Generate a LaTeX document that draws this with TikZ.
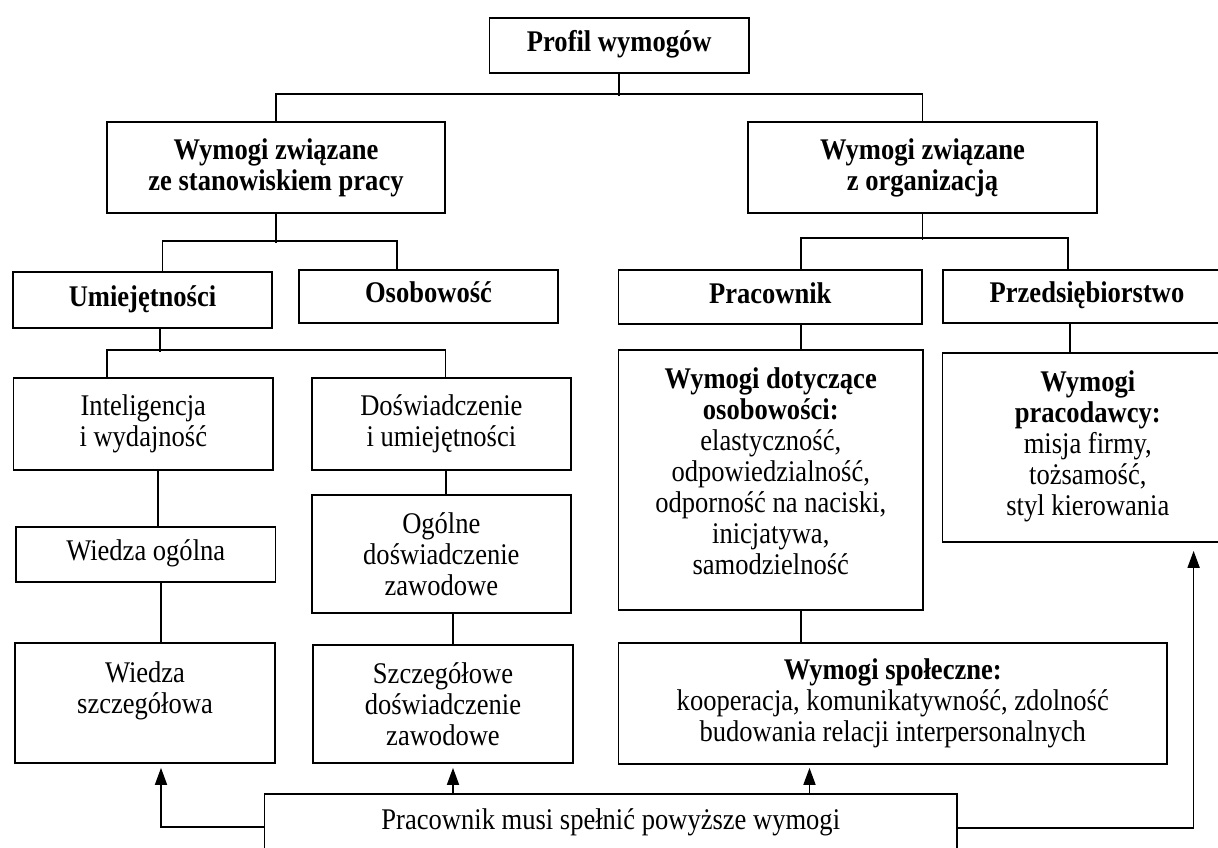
\documentclass[tikz,border=0pt]{standalone}
\usepackage{fontspec}
\setmainfont{Liberation Serif}[FakeStretch=0.885]
\usetikzlibrary{arrows.meta}
\begin{document}
\begin{tikzpicture}[x=1pt,y=-1pt,
  box/.style={draw, line width=1.7pt, inner sep=0pt, align=center, font=\fontsize{30}{31}\selectfont},
  conn/.style={line width=1.7pt},
  arr/.style={line width=1.7pt, -{Triangle[length=17pt,width=12pt]}}]
\useasboundingbox (0,0) rectangle (1218,848);
\clip (0,0) rectangle (1218,848);
% boxes
\node[box, minimum width=259.5pt, minimum height=55.6pt] (profil) at (619.25,45.5) {\strut\textbf{Profil wymogów}};
\node[box, minimum width=338pt, minimum height=91pt] (l1a) at (276,167.5) {\textbf{Wymogi związane}\\\textbf{ze stanowiskiem pracy}};
\node[box, minimum width=349pt, minimum height=91pt] (l1b) at (922.5,167.5) {\textbf{Wymogi związane}\\\textbf{z organizacją}};
\node[box, minimum width=259pt, minimum height=56pt] (umiej) at (142.5,300) {\strut\textbf{Umiejętności}};
\node[box, minimum width=259pt, minimum height=53pt] (osob) at (428.5,296.5) {\strut\textbf{Osobowość}};
\node[box, minimum width=303.5pt, minimum height=54pt] (prac) at (770.25,297) {\strut\textbf{Pracownik}};
\node[box, minimum width=288pt, minimum height=53pt] (przed) at (1087,296.5) {\strut\textbf{Przedsiębiorstwo}};
\node[box, minimum width=259.4pt, minimum height=92pt] (intel) at (143.3,424) {Inteligencja\\i wydajność};
\node[box, minimum width=259.3pt, minimum height=92pt] (dosw) at (441.35,424) {Doświadczenie\\i umiejętności};
\node[box, minimum width=259.5pt, minimum height=55pt] (wog) at (145.75,554.5) {\strut Wiedza ogólna};
\node[box, minimum width=259.3pt, minimum height=118pt] (ogol) at (441.35,554) {Ogólne\\doświadczenie\\zawodowe};
\node[box, minimum width=260pt, minimum height=120pt] (wsz) at (145,703) {Wiedza\\szczegółowa\\\mbox{}};
\node[box, minimum width=260pt, minimum height=118pt] (szcz) at (443,704) {Szczegółowe\\doświadczenie\\zawodowe};
\node[box, minimum width=304.5pt, minimum height=260pt] (wdot) at (770.75,480) {\textbf{Wymogi dotyczące}\\\textbf{osobowości:}\\elastyczność,\\odpowiedzialność,\\odporność na naciski,\\inicjatywa,\\samodzielność\\[-14pt]\mbox{}};
\node[box, minimum width=290.4pt, minimum height=189pt] (wprac) at (1087.8,447.5) {\textbf{Wymogi}\\\textbf{pracodawcy:}\\misja firmy,\\tożsamość,\\styl kierowania\\[-23pt]\mbox{}};
\node[box, minimum width=548.5pt, minimum height=121pt] (wspol) at (892.75,703.5) {\textbf{Wymogi społeczne:}\\kooperacja, komunikatywność, zdolność\\budowania relacji interpersonalnych};
\node[box, minimum width=692.4pt, minimum height=59pt] (bot) at (610.8,823.5) {\strut Pracownik musi spełnić powyższe wymogi};
% connectors
\draw[conn] (profil.south) -- ++(0,21.7);
\draw[conn] (l1a.north) -- ++(0,-27) -| (l1b.north);
\draw[conn] (l1a.south) -- ++(0,29);
\draw[conn] (umiej.north -| 162.6,0) -- ++(0,-30) -| (osob.north -| 397.3,0);
\draw[conn] (l1b.south) -- ++(0,26);
\draw[conn] (prac.north -| 801,0) -- ++(0,-31) -| (przed.north -| 1068,0);
\draw[conn] (umiej.south -| 160,0) -- ++(0,23);
\draw[conn] (intel.north -| 107,0) -- ++(0,-27) -| (dosw.north -| 445.5,0);
\draw[conn] (intel.south -| 158,0) -- (wog.north -| 158,0);
\draw[conn] (wog.south -| 161,0) -- (wsz.north -| 161,0);
\draw[conn] (dosw.south -| 446,0) -- (ogol.north -| 446,0);
\draw[conn] (ogol.south -| 453,0) -- (szcz.north -| 453,0);
\draw[conn] (prac.south -| 801,0) -- (wdot.north -| 801,0);
\draw[conn] (wdot.south -| 801,0) -- (wspol.north -| 801,0);
\draw[conn] (przed.south -| 1070,0) -- (wprac.north -| 1070,0);
% arrows
\draw[arr, shorten >=4pt] (bot.west |- 0,827) -| (wsz.south -| 161,0);
\draw[arr, shorten >=4pt] (bot.north -| 453,0) -- (szcz.south -| 453,0);
\draw[arr, shorten >=3pt] (bot.north -| 809.5,0) -- (wspol.south -| 809.5,0);
\draw[arr, shorten >=8pt] (bot.east |- 0,828) -| (wprac.south -| 1193.6,0);
\end{tikzpicture}
\end{document}
